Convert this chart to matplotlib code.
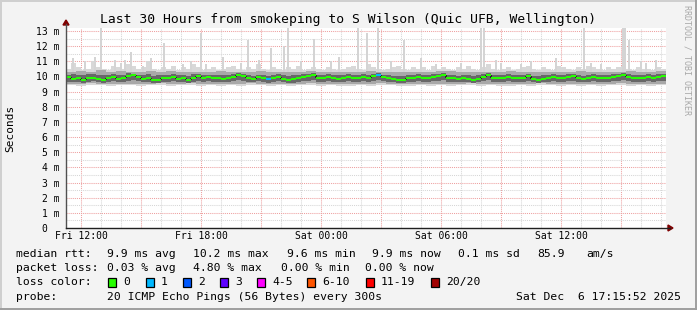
import numpy as np
import matplotlib
matplotlib.use("Agg")
import matplotlib.pyplot as plt
from matplotlib.lines import Line2D
from matplotlib.patches import Polygon, Rectangle

W, H, DPI = 697, 310, 100
FONT = "DejaVu Sans Mono"

# ---------------- data ----------------
t_start = 11.25          # hours since Fri 00:00 (Fri 11:15)
step_fine = 0.25         # 15-minute steps
step_mid = 0.5           # 30-minute steps

median_rtt = [
    9.95, 9.85, 9.90, 9.80, 9.88, 9.92, 9.85, 9.80, 9.90, 9.95,
    9.85, 9.90, 10.05, 10.08, 9.95, 9.85, 9.90, 9.78, 9.80, 9.92,
    9.88, 9.95, 9.85, 9.90, 9.80, 9.92, 10.02, 9.90, 9.95, 9.88,
    9.92, 9.85, 9.90, 9.95, 10.08, 10.00, 9.90, 9.85, 9.95, 9.88,
    9.82, 9.90, 9.95, 9.85, 9.78, 9.82, 9.90, 9.95, 10.00, 10.10,
    9.92, 9.88, 9.95, 9.90, 9.85, 9.92, 9.95, 9.90, 9.88, 9.95,
    9.90, 10.05, 10.08, 9.95, 9.90, 9.85, 9.75, 9.80, 9.90, 9.92,
    9.95, 9.88, 9.90, 9.95, 10.00, 10.08, 9.92, 9.88, 9.85, 9.90,
    9.85, 9.78, 9.85, 9.95, 10.10, 9.92, 9.88, 9.90, 9.95, 9.90,
    9.88, 9.92, 10.05, 9.85, 9.75, 9.85, 9.90, 9.95, 9.88, 9.92,
    9.95, 10.00, 9.90, 9.85, 9.90, 9.95, 9.88, 9.92, 9.90, 9.95,
    10.05, 10.10, 9.95, 9.90, 9.88, 9.92, 9.95, 9.90, 9.95, 10.00,
]

smoke_top = [
    10.5, 10.9, 10.6, 10.4, 10.5, 11.0, 10.6, 10.5, 10.4, 10.7,
    10.6, 10.5, 10.8, 10.7, 10.5, 10.6, 11.0, 10.5, 10.4, 10.6,
    10.5, 10.7, 10.4, 10.6, 10.5, 10.8, 10.6, 10.4, 10.5, 10.6,
    10.4, 10.5, 10.6, 10.7, 10.5, 10.4, 10.6, 10.5, 10.8, 10.5,
    10.4, 10.6, 10.5, 10.4, 10.6, 10.5, 10.7, 10.4, 10.5, 10.6,
    10.5, 10.4, 10.6, 10.5, 10.4, 10.5, 10.6, 10.7, 10.5, 10.4,
    10.8, 10.6, 10.5, 10.4, 10.5, 10.6, 10.7, 10.5, 10.4, 10.6,
    10.5, 10.6, 10.4, 10.7, 10.5, 10.6, 10.5, 10.4, 10.6, 10.5,
    10.7, 10.5, 10.4, 10.6, 10.8, 10.5, 10.4, 10.5, 10.6, 10.4,
    10.5, 10.6, 10.7, 10.5, 10.4, 10.6, 10.5, 10.4, 10.7, 10.6,
    10.5, 10.4, 10.6, 10.5, 10.7, 10.6, 10.5, 10.4, 10.6, 10.5,
    10.6, 10.7, 10.5, 10.4, 10.6, 10.5, 10.5, 10.4, 10.6, 10.5,
]

core_hi = [
    10.12, 10.15, 10.10, 10.08, 10.14, 10.18, 10.10, 10.12, 10.08, 10.15,
    10.10, 10.12, 10.20, 10.18, 10.10, 10.12, 10.15, 10.05, 10.08, 10.12,
    10.10, 10.15, 10.08, 10.12, 10.06, 10.15, 10.18, 10.10, 10.12, 10.08,
    10.12, 10.08, 10.10, 10.15, 10.20, 10.15, 10.10, 10.06, 10.12, 10.10,
    10.05, 10.10, 10.14, 10.08, 10.04, 10.08, 10.12, 10.15, 10.16, 10.22,
    10.12, 10.10, 10.15, 10.10, 10.08, 10.12, 10.14, 10.10, 10.08, 10.14,
    10.10, 10.18, 10.20, 10.12, 10.10, 10.06, 10.02, 10.06, 10.10, 10.12,
    10.14, 10.10, 10.12, 10.15, 10.18, 10.20, 10.12, 10.08, 10.06, 10.10,
    10.08, 10.04, 10.08, 10.14, 10.22, 10.12, 10.08, 10.10, 10.14, 10.10,
    10.08, 10.12, 10.18, 10.06, 10.02, 10.08, 10.10, 10.15, 10.08, 10.12,
    10.14, 10.16, 10.10, 10.06, 10.10, 10.14, 10.08, 10.12, 10.10, 10.15,
    10.18, 10.22, 10.14, 10.10, 10.08, 10.12, 10.15, 10.10, 10.14, 10.16,
]

core_lo = [
    9.66, 9.62, 9.65, 9.60, 9.64, 9.68, 9.62, 9.60, 9.66, 9.68,
    9.62, 9.65, 9.72, 9.74, 9.68, 9.62, 9.65, 9.58, 9.60, 9.66,
    9.64, 9.68, 9.62, 9.65, 9.60, 9.66, 9.70, 9.64, 9.68, 9.64,
    9.66, 9.62, 9.64, 9.68, 9.74, 9.70, 9.64, 9.62, 9.68, 9.64,
    9.60, 9.64, 9.68, 9.62, 9.58, 9.60, 9.64, 9.68, 9.70, 9.75,
    9.66, 9.64, 9.68, 9.65, 9.62, 9.66, 9.68, 9.64, 9.62, 9.68,
    9.65, 9.72, 9.74, 9.68, 9.65, 9.62, 9.56, 9.58, 9.64, 9.66,
    9.68, 9.64, 9.65, 9.68, 9.72, 9.75, 9.66, 9.64, 9.62, 9.65,
    9.62, 9.58, 9.62, 9.68, 9.76, 9.66, 9.64, 9.65, 9.68, 9.65,
    9.64, 9.66, 9.72, 9.62, 9.56, 9.62, 9.65, 9.68, 9.64, 9.66,
    9.68, 9.70, 9.65, 9.62, 9.65, 9.68, 9.64, 9.66, 9.65, 9.68,
    9.72, 9.76, 9.68, 9.65, 9.64, 9.66, 9.68, 9.65, 9.68, 9.70,
]

mid_hi = [
    10.32, 10.35, 10.28, 10.40, 10.30, 10.35, 10.30, 10.28, 10.33, 10.30,
    10.35, 10.30, 10.28, 10.32, 10.30, 10.38, 10.30, 10.28, 10.30, 10.33,
    10.30, 10.28, 10.32, 10.30, 10.35, 10.30, 10.28, 10.30, 10.32, 10.30,
    10.35, 10.30, 10.28, 10.30, 10.32, 10.30, 10.30, 10.33, 10.38, 10.30,
    10.32, 10.30, 10.28, 10.30, 10.35, 10.30, 10.32, 10.28, 10.30, 10.32,
    10.30, 10.35, 10.30, 10.28, 10.32, 10.30, 10.38, 10.30, 10.32, 10.35,
]

mid_lo = [
    9.52, 9.50, 9.54, 9.50, 9.52, 9.50, 9.53, 9.50, 9.52, 9.54,
    9.50, 9.52, 9.55, 9.50, 9.52, 9.48, 9.52, 9.50, 9.54, 9.52,
    9.50, 9.53, 9.50, 9.52, 9.55, 9.50, 9.52, 9.50, 9.48, 9.52,
    9.50, 9.54, 9.52, 9.50, 9.48, 9.52, 9.50, 9.53, 9.50, 9.52,
    9.54, 9.50, 9.52, 9.50, 9.48, 9.52, 9.50, 9.54, 9.52, 9.50,
    9.52, 9.50, 9.53, 9.50, 9.52, 9.54, 9.50, 9.52, 9.50, 9.53,
]

smoke_bottom = [
    9.42, 9.40, 9.44, 9.42, 9.40, 9.43, 9.42, 9.40, 9.44, 9.42,
    9.40, 9.42, 9.45, 9.40, 9.42, 9.38, 9.42, 9.40, 9.44, 9.42,
    9.40, 9.43, 9.40, 9.42, 9.45, 9.40, 9.42, 9.40, 9.38, 9.42,
    9.40, 9.44, 9.42, 9.40, 9.38, 9.42, 9.40, 9.43, 9.40, 9.42,
    9.44, 9.40, 9.42, 9.40, 9.38, 9.42, 9.40, 9.44, 9.42, 9.40,
    9.42, 9.40, 9.43, 9.40, 9.42, 9.44, 9.40, 9.42, 9.40, 9.43,
]

# isolated high pings (hour, rtt ms)
spike_hours = [11.55, 12.65, 12.95, 13.65, 14.15, 14.45, 15.05, 16.10, 17.05, 17.95,
               18.20, 20.30, 21.45, 22.10, 22.30, 23.60, 24.45, 25.80, 26.25, 26.80,
               28.10, 29.70, 31.95, 32.10, 32.95, 33.95, 37.10, 37.95, 39.05, 39.15,
               39.35, 40.20,
               12.15, 13.95, 15.45, 17.45, 19.05, 19.95, 20.85, 22.95, 24.85, 27.45,
               28.95, 30.95, 32.70, 34.45, 35.70, 37.45, 39.95, 40.70]
spike_rtt = [11.2, 11.3, 13.3, 11.1, 11.1, 11.6, 10.7, 12.2, 10.8, 12.85,
             10.8, 12.4, 11.9, 12.0, 13.3, 12.5, 11.0, 13.3, 12.9, 13.3,
             12.4, 10.8, 13.3, 13.3, 10.9, 10.8, 13.3, 10.8, 13.3, 13.3,
             12.4, 10.9,
             11.0, 10.9, 11.2, 11.0, 11.3, 10.9, 11.1, 11.0, 11.3, 11.0,
             11.2, 10.9, 11.1, 11.0, 11.2, 10.9, 11.0, 11.1]

loss_hours = [21.25, 26.75]
loss_pings = [1, 1]

loss_labels = ["0", "1", "2", "3", "4-5", "6-10", "11-19", "20/20"]
loss_colors = ["#26ff00", "#00b8ff", "#0059ff", "#5e00ff", "#ff00ff",
               "#ff5500", "#ff0000", "#a10000"]

x_ticks = [12, 18, 24, 30, 36]
x_labels = ["Fri 12:00", "Fri 18:00", "Sat 00:00", "Sat 06:00", "Sat 12:00"]
y_ticks = list(range(14))
y_labels = ["0  "] + ["%d m" % v for v in range(1, 14)]

title = "Last 30 Hours from smokeping to S Wilson (Quic UFB, Wellington)"

# ---------------- figure ----------------
fig = plt.figure(figsize=(W / DPI, H / DPI), dpi=DPI, facecolor="#f3f3f3")

def fx(x):
    return x / W

def fy(y):
    return 1 - y / H

L, R, T, B = 66, 666, 28, 228
ax = fig.add_axes([fx(L), fy(B), (R - L) / W, (B - T) / H])
ax.set_facecolor("white")
ax.set_xlim(t_start, t_start + 30)
ax.set_ylim(0, 13.2)
for s in ax.spines.values():
    s.set_visible(False)

# grid
dot = (0, (1, 1))
for h in range(12, 42):
    if h % 3 == 0:
        ax.axvline(h, color="#eea0a0", lw=0.75, ls=dot, zorder=1)
    else:
        ax.axvline(h, color="#d6d6d6", lw=0.75, ls=dot, zorder=1)
for v in np.arange(0.5, 13.3, 0.5):
    if abs(v - round(v)) < 1e-6:
        ax.axhline(v, color="#eea0a0", lw=0.75, ls=dot, zorder=1)
    else:
        ax.axhline(v, color="#d6d6d6", lw=0.75, ls=dot, zorder=1)

t_fine = t_start + step_fine * np.arange(len(median_rtt))
t_mid = t_start + step_mid * np.arange(len(mid_hi))
smoke_top_a = np.array(smoke_top)
core_hi_a = np.array(core_hi)
core_lo_a = np.array(core_lo)
mid_hi_a = np.array(mid_hi)
mid_lo_a = np.array(mid_lo)
bot_a = np.array(smoke_bottom)
med = np.array(median_rtt)

light = "#d8d8d8"
ax.bar(t_fine, smoke_top_a - 9.9, bottom=9.9, width=step_fine, align="edge",
       color=light, lw=0, zorder=2)
ax.bar(t_mid, 9.9 - bot_a, bottom=bot_a, width=step_mid, align="edge",
       color=light, lw=0, zorder=2)
sp = np.array(spike_rtt)
ax.bar(spike_hours, sp - 10.2, bottom=10.2, width=1 / 12, align="edge",
       color="#d4d4d4", lw=0, zorder=2)
ax.bar(t_mid, mid_hi_a - mid_lo_a, bottom=mid_lo_a, width=step_mid, align="edge",
       color="#a8a8a8", lw=0, zorder=3)
ax.bar(t_fine, core_hi_a - core_lo_a, bottom=core_lo_a, width=step_fine, align="edge",
       color="#686868", lw=0, zorder=4)

# median line coloured by loss
seg_colors = []
for t in t_fine:
    c = loss_colors[0]
    for lh, lp in zip(loss_hours, loss_pings):
        if abs(t - lh) < 1e-6:
            c = loss_colors[min(lp, 3)]
    seg_colors.append(c)
ax.vlines(t_fine[1:], med[:-1], med[1:], colors="#1e1e1e", lw=1.2, zorder=5)
ax.hlines(med, t_fine + 0.015, t_fine + step_fine - 0.015, colors=seg_colors,
          lw=1.45, zorder=6)

# ticks
ax.set_xticks(x_ticks)
ax.set_xticklabels(x_labels, fontfamily=FONT, fontsize=7)
ax.set_yticks(y_ticks)
ax.set_yticklabels(y_labels, fontfamily=FONT, fontsize=7)
ax.tick_params(axis="x", length=0, pad=2.5)
ax.tick_params(axis="y", length=0, pad=4.5)

# axes lines and arrows
fig.add_artist(Line2D([fx(L), fx(L)], [fy(B), fy(24)], color="#505050", lw=1))
fig.add_artist(Line2D([fx(L), fx(670)], [fy(B), fy(B)], color="#202020", lw=1))
fig.add_artist(Polygon([[fx(L - 3), fy(25)], [fx(L + 3), fy(25)], [fx(L), fy(20)]],
                       closed=True, color="#7f0000", transform=fig.transFigure))
fig.add_artist(Polygon([[fx(668), fy(B - 3)], [fx(668), fy(B + 3)], [fx(673), fy(B)]],
                       closed=True, color="#7f0000", transform=fig.transFigure))

# border
fig.add_artist(Line2D([fx(0.5), fx(696)], [fy(0.5), fy(0.5)], color="#cfcfcf", lw=1.4))
fig.add_artist(Line2D([fx(0.5), fx(0.5)], [fy(0.5), fy(309)], color="#cfcfcf", lw=1.4))
fig.add_artist(Line2D([fx(696), fx(696)], [fy(0.5), fy(309.5)], color="#9e9e9e", lw=1.4))
fig.add_artist(Line2D([fx(0.5), fx(696.5)], [fy(309), fy(309)], color="#9e9e9e", lw=1.4))

# texts
fig.text(fx(348), fy(19), title, ha="center", va="center", fontfamily=FONT, fontsize=9.4)
fig.text(fx(10), fy(128), "Seconds", ha="center", va="center", rotation=90,
         fontfamily=FONT, fontsize=8)
fig.text(fx(687), fy(60), "RRDTOOL / TOBI OETIKER", ha="center", va="center",
         rotation=270, fontfamily=FONT, fontsize=6, color="#a8a8a8")

fs = 8.2
def put(x, y, s, ha="left"):
    fig.text(fx(x), fy(y), s, ha=ha, va="center", fontfamily=FONT, fontsize=fs)

y1, y2, y3, y4 = 254, 268, 282, 297
put(16, y1, "median rtt:")
put(107, y1, "9.9 ms avg")
put(193, y1, "10.2 ms max")
put(287, y1, "9.6 ms min")
put(372, y1, "9.9 ms now")
put(458, y1, "0.1 ms sd")
put(537, y1, "85.9")
put(586, y1, "am/s")

put(16, y2, "packet loss:")
put(107, y2, "0.03 % avg")
put(193, y2, "4.80 % max")
put(281, y2, "0.00 % min")
put(365, y2, "0.00 % now")

put(16, y3, "loss color:")
box_x = [108, 146, 183, 220, 257, 307, 366, 431]
for bx, lab, col in zip(box_x, loss_labels, loss_colors):
    fig.add_artist(Rectangle((fx(bx), fy(y3 + 4.5)), 8 / W, 9 / H, facecolor=col,
                             edgecolor="black", lw=0.9, transform=fig.transFigure))
    put(bx + 15, y3, lab)

put(16, y4, "probe:")
put(107, y4, "20 ICMP Echo Pings (56 Bytes) every 300s")
put(681, y4, "Sat Dec  6 17:15:52 2025", ha="right")

fig.savefig("out.png", dpi=DPI, facecolor=fig.get_facecolor())
